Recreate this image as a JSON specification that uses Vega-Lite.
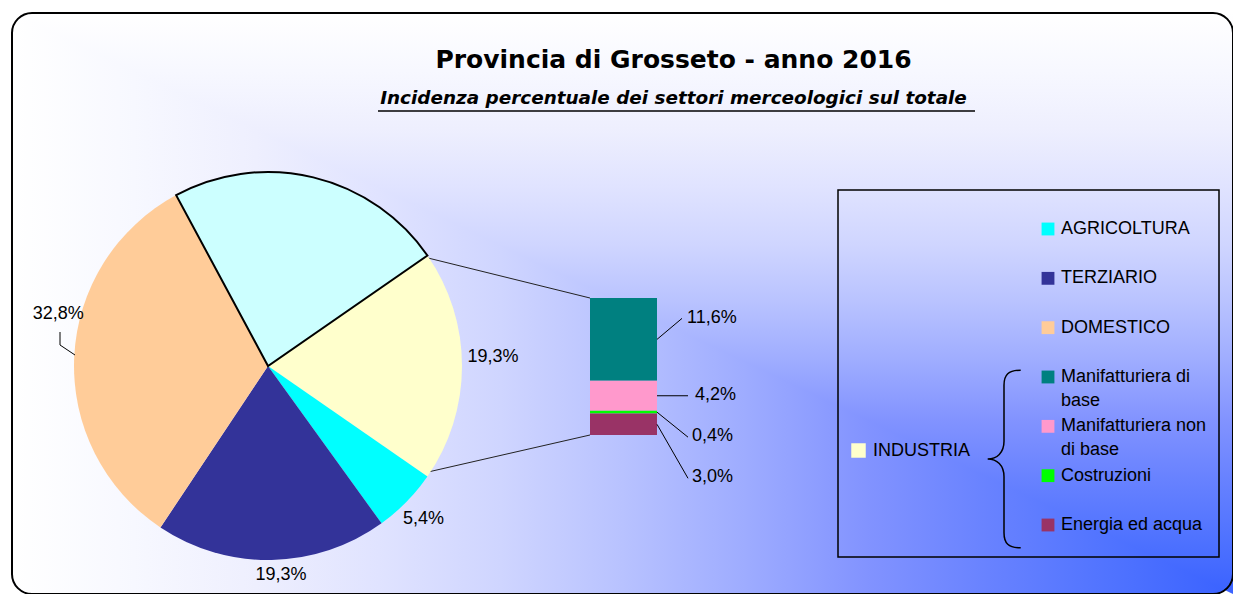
{
  "$schema": "https://vega.github.io/schema/vega-lite/v6.json",
  "width": 1221,
  "height": 581,
  "autosize": {"type": "none"},
  "padding": {"left": 12, "top": 13, "right": 0, "bottom": 0},
  "background": "white",
  "config": {
    "view": {
      "stroke": null,
      "cornerRadius": 20,
      "fill": {
        "gradient": "linear",
        "x1": 1, "y1": 0, "x2": 0, "y2": 0,
        "stops": [
          {"offset": 0, "color": "#3a62ff"},
          {"offset": 0.1, "color": "#5073ff"},
          {"offset": 0.2, "color": "#6882ff"},
          {"offset": 0.3, "color": "#8293ff"},
          {"offset": 0.4, "color": "#9eacff"},
          {"offset": 0.5, "color": "#b8c2ff"},
          {"offset": 0.6, "color": "#cfd5ff"},
          {"offset": 0.7, "color": "#e0e3ff"},
          {"offset": 0.8, "color": "#eeeffe"},
          {"offset": 0.9, "color": "#f7f8ff"},
          {"offset": 1, "color": "#ffffff"}
        ]
      }
    },
    "text": {"font": "Liberation Sans", "fontSize": 18, "color": "black"}
  },
  "title": {
    "text": "Provincia di Grosseto - anno 2016",
    "subtitle": "Incidenza percentuale dei settori merceologici sul totale",
    "anchor": "middle",
    "dx": 51,
    "offset": -95,
    "font": "DejaVu Sans",
    "fontSize": 25,
    "fontWeight": "bold",
    "color": "black",
    "subtitleFont": "DejaVu Sans",
    "subtitleFontSize": 18.4,
    "subtitleFontStyle": "italic",
    "subtitleFontWeight": "bold",
    "subtitleColor": "black",
    "subtitlePadding": 16
  },
  "datasets": {
    "settori": [
      {"settore": "INDUSTRIA", "valore": 19.3, "gruppo": "torta", "ordine": 1},
      {"settore": "AGRICOLTURA", "valore": 5.4, "gruppo": "torta", "ordine": 2},
      {"settore": "TERZIARIO", "valore": 19.3, "gruppo": "torta", "ordine": 3},
      {"settore": "DOMESTICO", "valore": 32.8, "gruppo": "torta", "ordine": 4},
      {"settore": "n.d.", "valore": 23.2, "gruppo": "torta", "ordine": 5},
      {"settore": "Manifatturiera di base", "valore": 11.6, "gruppo": "barra", "ordine": 4},
      {"settore": "Manifatturiera non di base", "valore": 4.2, "gruppo": "barra", "ordine": 3},
      {"settore": "Costruzioni", "valore": 0.4, "gruppo": "barra", "ordine": 2},
      {"settore": "Energia ed acqua", "valore": 3.0, "gruppo": "barra", "ordine": 1}
    ],
    "uno": [{}]
  },
  "data": {"name": "settori"},
  "resolve": {"scale": {"y": "independent", "x": "independent"}},
  "layer": [
    {
      "data": {"name": "uno"},
      "mark": {
        "type": "point",
        "shape": "M-1,-0.4758L1,-0.4758L1,0.4758Z",
        "size": 1490841,
        "filled": true,
        "opacity": 1,
        "strokeWidth": 0,
        "fill": {
          "gradient": "linear",
          "x1": 0, "y1": 1, "x2": 0, "y2": 0,
          "stops": [
            {"offset": 0, "color": "#3a62ff"},
            {"offset": 0.1, "color": "#5073ff"},
            {"offset": 0.2, "color": "#6882ff"},
            {"offset": 0.3, "color": "#8293ff"},
            {"offset": 0.4, "color": "#9eacff"},
            {"offset": 0.5, "color": "#b8c2ff"},
            {"offset": 0.6, "color": "#cfd5ff"},
            {"offset": 0.7, "color": "#e0e3ff"},
            {"offset": 0.8, "color": "#eeeffe"},
            {"offset": 0.9, "color": "#f7f8ff"},
            {"offset": 1, "color": "#ffffff"}
          ]
        }
      },
      "encoding": {"x": {"value": 610.5}, "y": {"value": 290.5}}
    },
    {
      "data": {"name": "uno"},
      "mark": {"type": "rect", "fillOpacity": 0, "stroke": "black", "strokeWidth": 2, "cornerRadius": 20},
      "encoding": {"x": {"value": 0}, "x2": {"value": 1221}, "y": {"value": 0}, "y2": {"value": 581}}
    },
    {
      "data": {"name": "uno"},
      "mark": {"type": "rule", "color": "black", "strokeWidth": 1.5},
      "encoding": {"x": {"value": 366}, "x2": {"value": 963}, "y": {"value": 98}, "y2": {"value": 98}}
    },
    {
      "data": {"name": "uno"},
      "mark": {"type": "rule", "color": "#222222", "strokeWidth": 1},
      "encoding": {"x": {"value": 416}, "x2": {"value": 578}, "y": {"value": 245}, "y2": {"value": 285}}
    },
    {
      "data": {"name": "uno"},
      "mark": {"type": "rule", "color": "#222222", "strokeWidth": 1},
      "encoding": {"x": {"value": 416}, "x2": {"value": 578}, "y": {"value": 459}, "y2": {"value": 422}}
    },
    {
      "transform": [{"filter": "datum.gruppo==='torta'"}],
      "mark": {"type": "arc", "stroke": "black"},
      "encoding": {
        "theta": {"field": "valore", "type": "quantitative", "stack": true, "scale": {"domain": [0, 100], "range": [0.9645, 7.2477]}},
        "order": {"field": "ordine", "type": "quantitative"},
        "color": {
          "field": "settore", "type": "nominal", "legend": null,
          "scale": {
            "domain": ["INDUSTRIA", "AGRICOLTURA", "TERZIARIO", "DOMESTICO", "n.d.", "Manifatturiera di base", "Manifatturiera non di base", "Costruzioni", "Energia ed acqua"],
            "range": ["#FFFFCC", "#00FFFF", "#333399", "#FFCC99", "#CCFFFF", "#008080", "#FF99CC", "#00FF00", "#993366"]
          }
        },
        "strokeWidth": {"condition": {"test": "datum.settore==='n.d.'", "value": 2}, "value": 0},
        "x": {"value": 256},
        "y": {"value": 353},
        "radius": {"value": 194}
      }
    },
    {
      "transform": [
        {"filter": "datum.gruppo==='torta'"},
        {"stack": "valore", "groupby": [], "sort": [{"field": "ordine", "order": "ascending"}], "as": ["t0", "t1"]},
        {"calculate": "(datum.t0+datum.t1)/2", "as": "tm"},
        {"calculate": "replace(format(datum.valore,'.1f'),'.',',')+'%'", "as": "etichetta"}
      ],
      "encoding": {
        "theta": {"field": "tm", "type": "quantitative", "stack": null, "scale": {"domain": [0, 100], "range": [0.9645, 7.2477]}},
        "text": {"field": "etichetta", "type": "nominal"},
        "x": {"value": 256},
        "y": {"value": 353}
      },
      "layer": [
        {"transform": [{"filter": "datum.settore==='INDUSTRIA'"}], "mark": {"type": "text", "radius": 225, "dy": -9}},
        {"transform": [{"filter": "datum.settore==='AGRICOLTURA'"}], "mark": {"type": "text", "radius": 218}},
        {"transform": [{"filter": "datum.settore==='TERZIARIO'"}], "mark": {"type": "text", "radius": 209, "dx": 9}},
        {"transform": [{"filter": "datum.settore==='DOMESTICO'"}], "mark": {"type": "text", "radius": 210, "dy": -42}}
      ]
    },
    {
      "data": {"name": "uno"},
      "mark": {"type": "point", "shape": "M-0.652,-1L-0.652,0.13L0.652,1", "size": 529, "filled": false, "fill": null, "stroke": "black", "strokeWidth": 1, "opacity": 1},
      "encoding": {"x": {"value": 55.5}, "y": {"value": 330.5}}
    },
    {
      "transform": [
        {"filter": "datum.gruppo==='barra'"},
        {"stack": "valore", "groupby": [], "sort": [{"field": "ordine", "order": "ascending"}], "as": ["v0", "v1"]},
        {"calculate": "(datum.v0+datum.v1)/2", "as": "vm"},
        {"calculate": "replace(format(datum.valore,'.1f'),'.',',')+'%'", "as": "etichetta"}
      ],
      "layer": [
        {
          "mark": {"type": "rect"},
          "encoding": {
            "x": {"value": 578},
            "x2": {"value": 645},
            "y": {"field": "v0", "type": "quantitative", "scale": {"domain": [0, 19.2], "range": [422, 285]}, "axis": null},
            "y2": {"field": "v1"},
            "color": {
              "field": "settore", "type": "nominal", "legend": null,
              "scale": {
                "domain": ["INDUSTRIA", "AGRICOLTURA", "TERZIARIO", "DOMESTICO", "n.d.", "Manifatturiera di base", "Manifatturiera non di base", "Costruzioni", "Energia ed acqua"],
                "range": ["#FFFFCC", "#00FFFF", "#333399", "#FFCC99", "#CCFFFF", "#008080", "#FF99CC", "#00FF00", "#993366"]
              }
            }
          }
        },
        {
          "transform": [{"filter": "datum.settore==='Manifatturiera di base'"}],
          "layer": [
            {"mark": {"type": "rule", "color": "black", "strokeWidth": 1, "y2Offset": -21},
             "encoding": {"x": {"value": 645}, "x2": {"value": 670}, "y": {"field": "vm", "type": "quantitative", "scale": {"domain": [0, 19.2], "range": [422, 285]}, "axis": null}, "y2": {"field": "vm"}}},
            {"mark": {"type": "text", "align": "left", "dy": -21},
             "encoding": {"x": {"value": 675}, "y": {"field": "vm", "type": "quantitative", "scale": {"domain": [0, 19.2], "range": [422, 285]}, "axis": null}, "text": {"field": "etichetta", "type": "nominal"}}}
          ]
        },
        {
          "transform": [{"filter": "datum.settore==='Manifatturiera non di base'"}],
          "layer": [
            {"mark": {"type": "rule", "color": "black", "strokeWidth": 1, "y2Offset": 0},
             "encoding": {"x": {"value": 645}, "x2": {"value": 676}, "y": {"field": "vm", "type": "quantitative", "scale": {"domain": [0, 19.2], "range": [422, 285]}, "axis": null}, "y2": {"field": "vm"}}},
            {"mark": {"type": "text", "align": "left", "dy": -1},
             "encoding": {"x": {"value": 683}, "y": {"field": "vm", "type": "quantitative", "scale": {"domain": [0, 19.2], "range": [422, 285]}, "axis": null}, "text": {"field": "etichetta", "type": "nominal"}}}
          ]
        },
        {
          "transform": [{"filter": "datum.settore==='Costruzioni'"}],
          "layer": [
            {"mark": {"type": "rule", "color": "black", "strokeWidth": 1, "y2Offset": 25},
             "encoding": {"x": {"value": 645}, "x2": {"value": 676}, "y": {"field": "vm", "type": "quantitative", "scale": {"domain": [0, 19.2], "range": [422, 285]}, "axis": null}, "y2": {"field": "vm"}}},
            {"mark": {"type": "text", "align": "left", "dy": 24},
             "encoding": {"x": {"value": 680}, "y": {"field": "vm", "type": "quantitative", "scale": {"domain": [0, 19.2], "range": [422, 285]}, "axis": null}, "text": {"field": "etichetta", "type": "nominal"}}}
          ]
        },
        {
          "transform": [{"filter": "datum.settore==='Energia ed acqua'"}],
          "layer": [
            {"mark": {"type": "rule", "color": "black", "strokeWidth": 1, "y2Offset": 54},
             "encoding": {"x": {"value": 645}, "x2": {"value": 676}, "y": {"field": "vm", "type": "quantitative", "scale": {"domain": [0, 19.2], "range": [422, 285]}, "axis": null}, "y2": {"field": "vm"}}},
            {"mark": {"type": "text", "align": "left", "dy": 53},
             "encoding": {"x": {"value": 680}, "y": {"field": "vm", "type": "quantitative", "scale": {"domain": [0, 19.2], "range": [422, 285]}, "axis": null}, "text": {"field": "etichetta", "type": "nominal"}}}
          ]
        }
      ]
    },
    {
      "data": {"name": "uno"},
      "mark": {"type": "rect", "fillOpacity": 0, "stroke": "black", "strokeWidth": 1.5},
      "encoding": {"x": {"value": 826}, "x2": {"value": 1207}, "y": {"value": 177}, "y2": {"value": 544}}
    },
    {
      "transform": [
        {"filter": "datum.settore!=='INDUSTRIA' && datum.settore!=='n.d.'"},
        {"calculate": "datum.settore==='Manifatturiera di base' ? 'Manifatturiera di\\nbase' : datum.settore==='Manifatturiera non di base' ? 'Manifatturiera non\\ndi base' : datum.settore", "as": "voce"}
      ],
      "encoding": {
        "y": {
          "field": "settore", "type": "nominal", "axis": null,
          "scale": {"type": "point", "padding": 0, "range": [216, 512],
            "domain": ["AGRICOLTURA", "TERZIARIO", "DOMESTICO", "Manifatturiera di base", "Manifatturiera non di base", "Costruzioni", "Energia ed acqua"]}
        }
      },
      "layer": [
        {
          "mark": {"type": "point", "shape": "square", "size": 165, "filled": true, "opacity": 1, "strokeWidth": 0},
          "encoding": {
            "x": {"value": 1036},
            "color": {
              "field": "settore", "type": "nominal", "legend": null,
              "scale": {
                "domain": ["INDUSTRIA", "AGRICOLTURA", "TERZIARIO", "DOMESTICO", "n.d.", "Manifatturiera di base", "Manifatturiera non di base", "Costruzioni", "Energia ed acqua"],
                "range": ["#FFFFCC", "#00FFFF", "#333399", "#FFCC99", "#CCFFFF", "#008080", "#FF99CC", "#00FF00", "#993366"]
              }
            }
          }
        },
        {
          "mark": {"type": "text", "align": "left", "baseline": "top", "dy": -9, "lineBreak": "\n", "lineHeight": 24},
          "encoding": {"x": {"value": 1049}, "text": {"field": "voce", "type": "nominal"}}
        }
      ]
    },
    {
      "transform": [{"filter": "datum.settore==='INDUSTRIA'"}],
      "layer": [
        {
          "mark": {"type": "point", "shape": "square", "size": 210, "filled": true, "opacity": 1, "strokeWidth": 0},
          "encoding": {
            "x": {"value": 846.5},
            "y": {"value": 437.5},
            "color": {
              "field": "settore", "type": "nominal", "legend": null,
              "scale": {
                "domain": ["INDUSTRIA", "AGRICOLTURA", "TERZIARIO", "DOMESTICO", "n.d.", "Manifatturiera di base", "Manifatturiera non di base", "Costruzioni", "Energia ed acqua"],
                "range": ["#FFFFCC", "#00FFFF", "#333399", "#FFCC99", "#CCFFFF", "#008080", "#FF99CC", "#00FF00", "#993366"]
              }
            }
          }
        },
        {
          "mark": {"type": "text", "align": "left", "baseline": "middle"},
          "encoding": {"x": {"value": 861}, "y": {"value": 438}, "text": {"field": "settore", "type": "nominal"}}
        }
      ]
    },
    {
      "data": {"name": "uno"},
      "mark": {"type": "point", "shape": "M0.188,-1C0.05,-1 0,-0.95 0,-0.83L0,-0.2C0,-0.07 -0.08,0 -0.184,0C-0.08,0 0,0.07 0,0.2L0,0.83C0,0.95 0.05,1 0.188,1", "size": 31540, "filled": false, "fill": null, "stroke": "black", "strokeWidth": 1.5, "opacity": 1},
      "encoding": {"x": {"value": 992}, "y": {"value": 446}}
    }
  ]
}
